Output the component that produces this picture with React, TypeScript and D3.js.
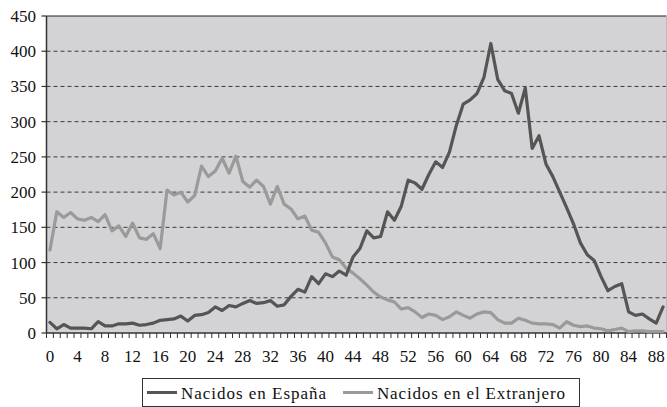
import React from "react";
import * as d3 from "d3";

const ages: number[] = d3.range(0, 90);
const xTickLabels: number[] = [0, 4, 8, 12, 16, 20, 24, 28, 32, 36, 40, 44, 48, 52, 56, 60, 64, 68, 72, 76, 80, 84, 88];
const yTicks: number[] = [0, 50, 100, 150, 200, 250, 300, 350, 400, 450];

const espana: number[] = [
  15, 6, 12, 7, 7, 7, 6, 16, 10, 10,
  13, 13, 14, 11, 12, 14, 18, 19, 20, 24,
  17, 25, 26, 29, 37, 32, 39, 37, 42, 46,
  42, 43, 46, 38, 40, 52, 62, 58, 80, 70,
  84, 80, 88, 82, 108, 120, 145, 135, 137, 172,
  160, 180, 217, 213, 204, 225, 243, 235, 257, 295,
  325, 331, 340, 363, 411, 360, 344, 340, 312, 348,
  262, 280, 240, 222, 200, 178, 155, 128, 111, 103,
  80, 60, 66, 70, 30, 25, 27, 20, 14, 37,
];

const extranjero: number[] = [
  118, 172, 164, 171, 162, 160, 164, 158, 168, 145,
  152, 137, 156, 135, 133, 141, 120, 203, 196, 200,
  186, 195, 237, 222, 230, 248, 227, 251, 215, 207,
  217, 208, 183, 208, 183, 176, 162, 166, 146, 143,
  128, 108, 104, 92, 85, 77, 68, 58, 51, 47,
  44, 34, 36, 30, 22, 27, 25, 19, 23, 30,
  25, 21, 27, 30, 29, 19, 14, 14, 21, 18,
  14, 13, 13, 12, 7, 16, 11, 9, 10, 7,
  6, 3, 5, 7, 2, 3, 3, 2, 2, 2,
];

const seriesNames = ["Nacidos en España", "Nacidos en el Extranjero"];
const seriesColors = ["#555555", "#9a9a9a"];

const W = 667;
const H = 407;
const left = 46.5;
const right = 666.5;
const top = 16;
const bottom = 333;

const FONT = '"Liberation Serif", "Times New Roman", serif';

export default function App() {
  const x = d3.scaleBand<number>().domain(ages).range([left, right]).padding(0);
  const bw = x.bandwidth();
  const cx = (a: number) => (x(a) as number) + bw / 2;
  const y = d3.scaleLinear().domain([0, 450]).range([bottom, top]);

  const line = d3
    .line<number>()
    .x((_, i) => cx(ages[i]))
    .y((v) => y(v));

  const ts: React.CSSProperties = { fontFamily: FONT, fontSize: "17px" };
  const ls: React.CSSProperties = { fontFamily: FONT, fontSize: "17px" };

  return (
    <svg
      width={W}
      height={H}
      style={{ position: "absolute", left: 0, top: 0, background: "#fff" }}
    >
      <rect x={left} y={top} width={right - left} height={bottom - top} fill="#d3d3d5" />
      {yTicks
        .filter((t) => t > 0 && t < 450)
        .map((t) => (
          <line
            key={"g" + t}
            x1={left}
            x2={right}
            y1={y(t)}
            y2={y(t)}
            stroke="#3a3a3a"
            strokeWidth={1}
            strokeDasharray="4,3"
          />
        ))}
      <line x1={left} x2={right} y1={y(450)} y2={y(450)} stroke="#222" strokeWidth={1.2} />
      <line x1={right} x2={right} y1={top} y2={bottom} stroke="#bbbbbb" strokeWidth={1} />

      {/* y axis */}
      <line x1={left} x2={left} y1={top} y2={bottom} stroke="#333" strokeWidth={1.5} />
      {yTicks.map((t) => (
        <g key={"y" + t}>
          <line x1={left - 5} x2={left} y1={y(t)} y2={y(t)} stroke="#333" strokeWidth={1.2} />
          <text x={36} y={y(t)} dy="0.35em" textAnchor="end" style={ts} fill="#111">
            {t}
          </text>
        </g>
      ))}

      {/* x axis */}
      <line x1={left} x2={right} y1={bottom} y2={bottom} stroke="#333" strokeWidth={1.5} />
      {ages.concat([90]).map((a, i) => {
        const px = i < ages.length ? (x(a) as number) : right;
        return <line key={"xt" + i} x1={px} x2={px} y1={bottom} y2={bottom + 5} stroke="#333" strokeWidth={1} />;
      })}
      {xTickLabels.map((t) => (
        <text key={"xl" + t} x={cx(t)} y={362} textAnchor="middle" style={ts} fill="#111">
          {t}
        </text>
      ))}

      {/* series */}
      <path d={line(extranjero) || ""} fill="none" stroke={seriesColors[1]} strokeWidth={3.2} strokeLinejoin="round" strokeLinecap="round" />
      <path d={line(espana) || ""} fill="none" stroke={seriesColors[0]} strokeWidth={3.2} strokeLinejoin="round" strokeLinecap="round" />

      {/* legend */}
      <rect x={142.5} y={378.5} width={437} height={28} fill="#fff" stroke="#333" strokeWidth={1} />
      <line x1={147} x2={177} y1={392.5} y2={392.5} stroke={seriesColors[0]} strokeWidth={3} />
      <text x={181} y={399} style={ls} fill="#111" textLength={145} lengthAdjust="spacing">
        {seriesNames[0]}
      </text>
      <line x1={343} x2={373} y1={392.5} y2={392.5} stroke={seriesColors[1]} strokeWidth={3} />
      <text x={377} y={399} style={ls} fill="#111" textLength={188} lengthAdjust="spacing">
        {seriesNames[1]}
      </text>
    </svg>
  );
}
